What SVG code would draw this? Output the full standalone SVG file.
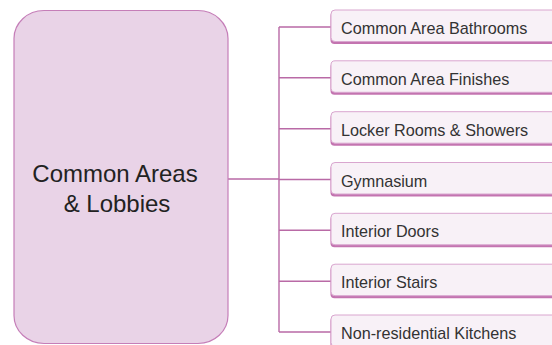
<svg xmlns="http://www.w3.org/2000/svg" width="552" height="345" viewBox="0 0 552 345">
<style>
.main{fill:#E9D3E7;stroke:#C57EB8;stroke-width:1.2}
.main-t{font-family:"Liberation Sans",Arial,sans-serif;font-size:24px;fill:#222;text-anchor:middle}
.shadow{fill:#C374B0}
.box{fill:#F8F1F7;stroke:#D9A6CF;stroke-width:1}
.t{font-family:"Liberation Sans",Arial,sans-serif;font-size:16.2px;fill:#333}
.c{fill:none;stroke:#B96AA6;stroke-width:1.4}
</style>
<rect width="552" height="345" fill="#FFFFFF"/>
<g id="connectors">
<path class="c" d="M228,179H279M279,27V332M279,27H331M279,77.8H331M279,128.7H331M279,179.5H331M279,230.3H331M279,281.2H331M279,332H331"/>
</g>
<g id="root">
<rect class="main" x="14" y="10.5" width="214" height="333" rx="30" ry="28"/>
<text class="main-t" x="115" y="182">Common Areas</text>
<text class="main-t" x="117" y="212">&amp; Lobbies</text>
</g>
<g id="n1"><rect class="shadow" x="330.5" y="12" width="240" height="32" rx="4"/><rect class="box" x="331" y="10" width="240" height="31.5" rx="4"/><text class="t" x="341" y="34">Common Area Bathrooms</text></g>
<g id="n2"><rect class="shadow" x="330.5" y="62.8" width="240" height="32" rx="4"/><rect class="box" x="331" y="60.8" width="240" height="31.5" rx="4"/><text class="t" x="341" y="84.8">Common Area Finishes</text></g>
<g id="n3"><rect class="shadow" x="330.5" y="113.7" width="240" height="32" rx="4"/><rect class="box" x="331" y="111.7" width="240" height="31.5" rx="4"/><text class="t" x="341" y="135.7">Locker Rooms &amp; Showers</text></g>
<g id="n4"><rect class="shadow" x="330.5" y="164.5" width="240" height="32" rx="4"/><rect class="box" x="331" y="162.5" width="240" height="31.5" rx="4"/><text class="t" x="341" y="186.5">Gymnasium</text></g>
<g id="n5"><rect class="shadow" x="330.5" y="215.3" width="240" height="32" rx="4"/><rect class="box" x="331" y="213.3" width="240" height="31.5" rx="4"/><text class="t" x="341" y="237.3">Interior Doors</text></g>
<g id="n6"><rect class="shadow" x="330.5" y="266.2" width="240" height="32" rx="4"/><rect class="box" x="331" y="264.2" width="240" height="31.5" rx="4"/><text class="t" x="341" y="288.2">Interior Stairs</text></g>
<g id="n7"><rect class="shadow" x="330.5" y="317" width="240" height="32" rx="4"/><rect class="box" x="331" y="315" width="240" height="31.5" rx="4"/><text class="t" x="341" y="339">Non-residential Kitchens</text></g>
</svg>
